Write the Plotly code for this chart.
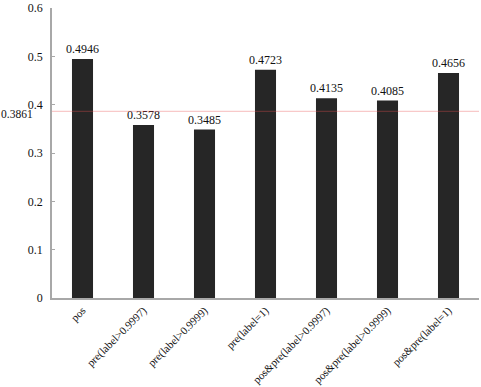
import plotly.graph_objects as go

categories = ["pos", "pre(label>0.9997)", "pre(label>0.9999)", "pre(label=1)",
              "pos&pre(label>0.9997)", "pos&pre(label>0.9999)", "pos&pre(label=1)"]
values = [0.4946, 0.3578, 0.3485, 0.4723, 0.4135, 0.4085, 0.4656]
baseline = 0.3861
y_ticks = [0, 0.1, 0.2, 0.3, 0.4, 0.5, 0.6]

font = dict(family="Liberation Serif", size=12, color="#111111")
xfont = dict(family="Liberation Serif", size=11, color="#111111")
afont = dict(family="Liberation Serif", size=11.5, color="#111111")

fig = go.Figure()
fig.add_trace(go.Bar(
    x=categories, y=values,
    marker=dict(color="#262626", line=dict(width=0)),
    width=0.345,
    text=[f"{v:.4f}" for v in values],
    textposition="outside",
    constraintext="none",
    textfont=font,
    cliponaxis=False,
    hoverinfo="skip",
))
fig.add_shape(type="line", xref="paper", x0=0, x1=1, yref="y", y0=baseline, y1=baseline,
              line=dict(color="rgb(235,80,80)", width=1.3), layer="above")
fig.add_annotation(xref="paper", x=0, yref="y", y=baseline, text=f"{baseline}",
                   showarrow=False, xanchor="right", xshift=-17, yshift=-3, font=afont)

fig.update_layout(
    template="simple_white",
    width=481, height=387,
    margin=dict(l=52, r=2, t=8, b=89),
    paper_bgcolor="white", plot_bgcolor="white",
    font=font, showlegend=False,
)
fig.update_xaxes(
    tickangle=-45, showline=True, linecolor="#a8a8a8", linewidth=1.5,
    ticks="", tickfont=xfont, showgrid=False, automargin=False,
)
fig.update_yaxes(
    range=[0, 0.6], tickvals=y_ticks, ticktext=[str(t) for t in y_ticks],
    showline=True, linecolor="#a8a8a8", linewidth=1.5,
    ticks="inside", ticklen=3, tickcolor="#a8a8a8",
    showgrid=False, zeroline=False, tickfont=font, ticklabelstandoff=5,
    automargin=False,
)
fig.write_html("out.html", config={"displayModeBar": False},
               post_script="document.body.style.margin='0';document.body.style.overflow='hidden';")
